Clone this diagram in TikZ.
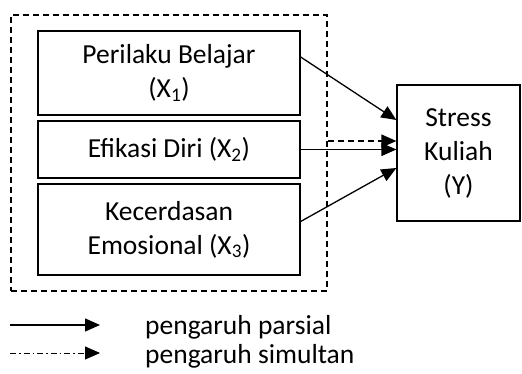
\documentclass[tikz,border=0pt]{standalone}
\usepackage{fontspec}
\setmainfont{Carlito}
\usetikzlibrary{arrows.meta}
\begin{document}
\begin{tikzpicture}[x=1pt,y=-1pt,
  box/.style={draw,line width=1.3pt,rectangle,align=center,inner sep=0pt,font=\fontsize{27.5}{34}\selectfont},
  grp/.style={draw,line width=1.2pt,dash pattern=on 6pt off 4pt,rectangle,inner sep=0pt},
  arr/.style={line width=1.3pt,-{Triangle[length=15pt,width=13pt]}},
  txt/.style={font=\fontsize{27.5}{34}\selectfont,inner sep=0pt,anchor=west}]
\useasboundingbox (0,0) rectangle (522,374);
\node[grp,minimum width=316pt,minimum height=276pt] (outer) at (169,153) {};
\node[box,minimum width=262pt,minimum height=84pt] (b1) at (169,73) {Perilaku Belajar\\(X\textsubscript{1})};
\node[box,minimum width=262pt,minimum height=57pt] (b2) at (169,149.5) {Efikasi Diri (X\textsubscript{2})};
\node[box,minimum width=262pt,minimum height=91pt] (b3) at (169,229.5) {Kecerdasan\\Emosional (X\textsubscript{3})};
\node[box,minimum width=123pt,minimum height=136pt] (y) at (458.5,153) {Stress\\Kuliah\\(Y)};
\draw[arr] ([yshift=16pt]b1.east) -- ([yshift=33pt]y.west);
\draw[arr,dash pattern=on 6pt off 4pt] ([yshift=12pt]outer.east) -- ([yshift=12pt]y.west);
\draw[arr] (b2.east) -- (b2.east -| y.west);
\draw[arr] ([yshift=8pt]b3.east) -- ([yshift=-15pt]y.west);
\coordinate (l1s) at (10,325);
\coordinate (l1e) at (100,325);
\coordinate (l2s) at (10,353);
\coordinate (l2e) at (100,353);
\draw[arr] (l1s) -- (l1e);
\draw[arr,line width=0.9pt,dash pattern=on 6pt off 3pt on 1.5pt off 3pt] (l2s) -- (l2e);
\node[txt] (t1) at (145,327) {pengaruh parsial};
\node[txt] (t2) at (145,356) {pengaruh simultan};
\end{tikzpicture}
\end{document}
